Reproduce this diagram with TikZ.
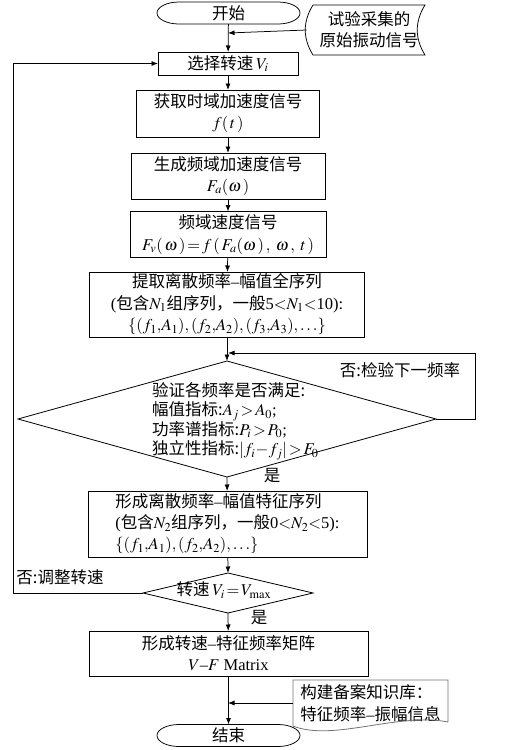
\documentclass[tikz,border=0pt]{standalone}
\usepackage{mathptmx}
\usepackage{fontspec}
\setmainfont{Liberation Serif}
\newfontfamily\cjk{Noto Sans CJK SC}
\newcommand\zhs[1]{{\cjk #1}}
\usetikzlibrary{shapes.geometric,arrows.meta}
\begin{document}
\begin{tikzpicture}[x=1pt,y=-1pt,
  font=\fontsize{16.5}{21}\selectfont,
  ln/.style={line width=0.75pt},
  arr/.style={ln,-{Latex[length=6.5pt,width=5pt]}},
  box/.style={draw,line width=0.8pt,inner sep=0pt,outer sep=0pt,align=center},
  dia/.style={draw,diamond,line width=0.8pt,inner sep=0pt,outer sep=0pt},
  term/.style={inner sep=0pt,outer sep=0pt,minimum width=143pt,minimum height=22pt},
  lbl/.style={inner sep=0pt}
]
\useasboundingbox (0,0) rectangle (526,750);

% terminals
\node[term] (st) at (228.5,13) {\zhs{开始}};
\draw[ln] ([xshift=22pt]st.north west) -- ([xshift=-22pt]st.north east)
  arc[start angle=90,end angle=-90,x radius=22pt,y radius=11pt]
  -- ([xshift=22pt]st.south west)
  arc[start angle=270,end angle=90,x radius=22pt,y radius=11pt] -- cycle;
\node[term] (en) at (228.5,735.5) {\zhs{结束}};
\draw[ln] ([xshift=22pt]en.north west) -- ([xshift=-22pt]en.north east)
  arc[start angle=90,end angle=-90,x radius=22pt,y radius=11pt]
  -- ([xshift=22pt]en.south west)
  arc[start angle=270,end angle=90,x radius=22pt,y radius=11pt] -- cycle;

% stored data input
\node[inner sep=0pt,outer sep=0pt,minimum width=112pt,minimum height=50pt,align=center,
  font=\fontsize{16.5}{21}\selectfont] (in1) at (369,30) {\zhs{试验采集的}\\\zhs{原始振动信号}};
\draw[ln] (in1.north west) -- (in1.north east) to[bend right=32] (in1.south east)
  -- (in1.south west) to[bend left=32] (in1.north west);
\coordinate (in1b) at ([xshift=-6.5pt]in1.west);

% boxes
\node[box,minimum width=140pt,minimum height=23pt] (b1) at (228,63.5) {\zhs{选择转速}\,$V_i$};
\node[box,minimum width=183pt,minimum height=47pt] (b2) at (228,113.5) {\zhs{获取时域加速度信号}\\$f(\,t\,)$};
\node[box,minimum width=194pt,minimum height=46pt] (b3) at (228,176) {\zhs{生成频域加速度信号}\\$F_a(\omega\,)$};
\node[box,minimum width=196pt,minimum height=46pt,font=\fontsize{16.5}{21.5}\selectfont] (b4) at (228,234.5) {\zhs{频域速度信号}\\$F_v(\,\omega\,)\!=\!f\,(\,F_a(\omega\,)\,,\;\omega\,,\;t\,)$};
\node[box,minimum width=275pt,minimum height=65pt,font=\fontsize{16.5}{21.5}\selectfont] (b5) at (227,304.5)
  {\zhs{提取离散频率}–\zhs{幅值全序列}\\(\zhs{包含}$N_1$\zhs{组序列，一般}5$<$$N_1$$<$10):\\$\{(f_1{,}A_1),(f_2{,}A_2),(f_3{,}A_3),\ldots\}$};

% decision 1
\node[dia,minimum width=418pt,minimum height=116pt] (d1) at (227,419) {};
\node[lbl,anchor=west,align=left,font=\fontsize{16.5}{19.5}\selectfont] (d1t) at (152,421)
  {\zhs{验证各频率是否满足:}\\\zhs{幅值指标:}$A_j\!>\!A_0$;\\\zhs{功率谱指标:}$P_i\!>\!P_0$;\\\zhs{独立性指标:}$|f_i\!-\!f_j|\!>\!F_0$};

\node[box,minimum width=279pt,minimum height=66pt,align=left,font=\fontsize{16.5}{21}\selectfont] (b6) at (227.5,524)
  {\zhs{形成离散频率}–\zhs{幅值特征序列}\\(\zhs{包含}$N_2$\zhs{组序列，一般}0$<$$N_2$$<$5):\\$\{(f_1{,}A_1),(f_2{,}A_2),\ldots\}$};

% decision 2
\node[dia,minimum width=170pt,minimum height=40pt] (d2) at (228,593) {};
\node[lbl] (d2t) at (224,590) {\zhs{转速}\,$V_i\!=\!V_{\max}$};

\node[box,minimum width=279pt,minimum height=45pt] (b7) at (228.5,653.5) {\zhs{形成转速}–\zhs{特征频率矩阵}\\$V$–$F$ Matrix};

% document: knowledge base
\node[inner sep=0pt,outer sep=0pt,minimum width=155pt,minimum height=46pt,align=left,
  font=\fontsize{16.5}{22}\selectfont] (kb) at (370.5,703) {\zhs{构建备案知识库：}\\\zhs{特征频率}–\zhs{振幅信息}};
\draw[line width=0.8pt,draw=black!55] ([yshift=4pt]kb.south east) -- (kb.north east) -- (kb.north west) -- (kb.south west)
  .. controls ([xshift=40pt,yshift=-16pt]kb.south west) and ([xshift=-50pt,yshift=14pt]kb.south east) .. ([yshift=4pt]kb.south east);

% junction coordinates
\coordinate (j1) at (228,33);
\coordinate (j2) at (228,353);
\coordinate (j3) at (228,703);
\coordinate (fbR) at (475,419);
\coordinate (fbL) at (13,593);

% connectors
\draw[arr] (st) -- (b1);
\draw[arr] (in1b) -- (j1);
\draw[arr] (b1) -- (b2);
\draw[arr] (b2) -- (b3);
\draw[arr] (b3) -- (b4);
\draw[arr] (b4) -- (b5);
\draw[arr] (b5) -- (d1.north);
\draw[arr] (d1.east) -- (fbR) |- (j2);
\draw[arr] (d1.south) -- (b6);
\draw[arr] (b6) -- (d2.north);
\draw[arr] (d2.west) -- (fbL) |- (b1.west);
\draw[arr] (d2.south) -- (b7);
\draw[arr] (b7) -- (en);
\draw[arr] (kb.west) -- (j3);

% labels
\node[lbl] (l1) at (400,370) {\zhs{否:检验下一频率}};
\node[lbl] (l2) at (272,476) {\zhs{是}};
\node[lbl] (l3) at (60,577) {\zhs{否:调整转速}};
\node[lbl] (l4) at (259,618) {\zhs{是}};
\end{tikzpicture}
\end{document}
